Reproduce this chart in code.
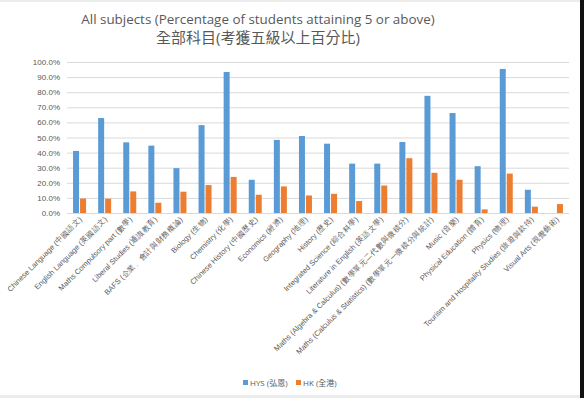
<!DOCTYPE html>
<html>
<head>
<meta charset="utf-8">
<script src="https://cdn.jsdelivr.net/npm/d3@7"></script>
<style>
  body { margin: 0; background: #fff; }
  svg { font-family: "Open Sans", "Liberation Sans", "Noto Sans CJK TC", sans-serif; }
  .title { fill: #595959; }
  .tick text { fill: #595959; }
</style>
</head>
<body>
<svg width="584" height="398"></svg>
<script>
// subjects, as on the x axis
const subjects = [
  "Chinese Language (中國語文)",
  "English Language (英國語文)",
  "Maths Compulsory part (數學)",
  "Liberal Studies (通識教育)",
  "BAFS (企業、會計與財務概論)",
  "Biology (生物)",
  "Chemistry (化學)",
  "Chinese History (中國歷史)",
  "Economics (經濟)",
  "Geography (地理)",
  "History (歷史)",
  "Integrated Science (綜合科學)",
  "Literature in English (英語文學)",
  "Maths (Algebra & Calculus) (數學單元二代數與微積分)",
  "Maths (Calculus & Statistics) (數學單元一微積分與統計)",
  "Music (音樂)",
  "Physical Education (體育)",
  "Physics (物理)",
  "Tourism and Hospitality Studies (旅遊與款待)",
  "Visual Arts (視覺藝術)"
];
const hysValues = [41.1, 62.9, 46.8, 44.6, 29.7, 58.2, 93.4, 22.0, 48.4, 51.0,
                   45.9, 32.7, 32.7, 47.0, 77.6, 66.2, 31.0, 95.4, 15.4, 0];
const hkValues = [9.6, 9.5, 14.3, 6.8, 14.1, 18.5, 23.9, 12.1, 17.6, 11.6,
                  12.7, 7.9, 18.2, 36.3, 26.6, 22.0, 2.4, 26.1, 4.2, 5.9];
const seriesNames = ["HYS (弘恩)", "HK (全港)"];
const yTicks = [0, 10, 20, 30, 40, 50, 60, 70, 80, 90, 100];

const { select, scaleBand, scaleLinear, axisLeft, axisBottom } = d3;

const svg = select('svg');
const width = +svg.attr('width');
const height = +svg.attr('height');
const colors = ['#5b9bd5', '#ed7d31'];

// screenshot frame
svg.append('rect').attr('x', 0).attr('y', 0).attr('width', width).attr('height', 2).attr('fill', '#ececec');
svg.append('rect').attr('x', 0).attr('y', 395).attr('width', width).attr('height', 3).attr('fill', '#ececec');
svg.append('rect').attr('x', 580).attr('y', 0).attr('width', 4).attr('height', height).attr('fill', '#111');

const margin = { top: 62, left: 67 };
const plotWidth = 502;
const innerHeight = 213 - margin.top;

const g = svg.append('g')
  .attr('transform', `translate(${margin.left},${margin.top})`);

const xScale = scaleBand()
  .domain(subjects)
  .range([0, plotWidth]);

const yScale = scaleLinear()
  .domain([0, 100])
  .range([innerHeight, 0]);

const yAxis = axisLeft(yScale)
  .tickValues(yTicks)
  .tickFormat(d => d.toFixed(1) + '%')
  .tickSize(-plotWidth)
  .tickPadding(7);

const yAxisG = g.append('g').call(yAxis);
yAxisG.select('.domain').remove();
yAxisG.selectAll('.tick line').attr('stroke', '#d9d9d9');
yAxisG.selectAll('.tick text').attr('font-size', '8px');

// bars
const barW = 6;
const series = [hysValues, hkValues];
series.forEach((vals, s) => {
  g.selectAll(`rect.s${s}`)
    .data(subjects)
    .enter().append('rect')
    .attr('class', `s${s}`)
    .attr('x', d => xScale(d) + xScale.bandwidth() / 2 - barW - 0.5 + s * (barW + 1))
    .attr('y', (d, i) => yScale(vals[i]))
    .attr('width', barW)
    .attr('height', (d, i) => innerHeight - yScale(vals[i]))
    .attr('fill', colors[s]);
});

const xAxisG = g.append('g')
  .attr('transform', `translate(0,${innerHeight})`)
  .call(axisBottom(xScale).tickSize(0).tickPadding(0));
xAxisG.select('.domain').remove();
xAxisG.selectAll('.tick text')
  .attr('font-size', '7.5px')
  .attr('text-anchor', 'end')
  .attr('dy', 0)
  .attr('y', 0)
  .attr('transform', 'translate(3,7) rotate(-45)');

// title
svg.append('text')
  .attr('class', 'title')
  .attr('x', 258)
  .attr('y', 24)
  .attr('text-anchor', 'middle')
  .attr('font-size', '13.4px')
  .text('All subjects (Percentage of students attaining 5 or above)');
svg.append('text')
  .attr('class', 'title')
  .attr('x', 258)
  .attr('y', 43)
  .attr('text-anchor', 'middle')
  .attr('font-size', '15px')
  .text('全部科目(考獲五級以上百分比)');

// legend
const legend = svg.append('g').attr('transform', 'translate(243,383)');
const legendX = [0, 53];
seriesNames.forEach((name, i) => {
  legend.append('rect')
    .attr('x', legendX[i]).attr('y', -3)
    .attr('width', 5).attr('height', 5)
    .attr('fill', colors[i]);
  legend.append('text')
    .attr('x', legendX[i] + 7).attr('y', 2.5)
    .attr('font-size', '8px')
    .attr('fill', '#595959')
    .text(name);
});
</script>
</body>
</html>
